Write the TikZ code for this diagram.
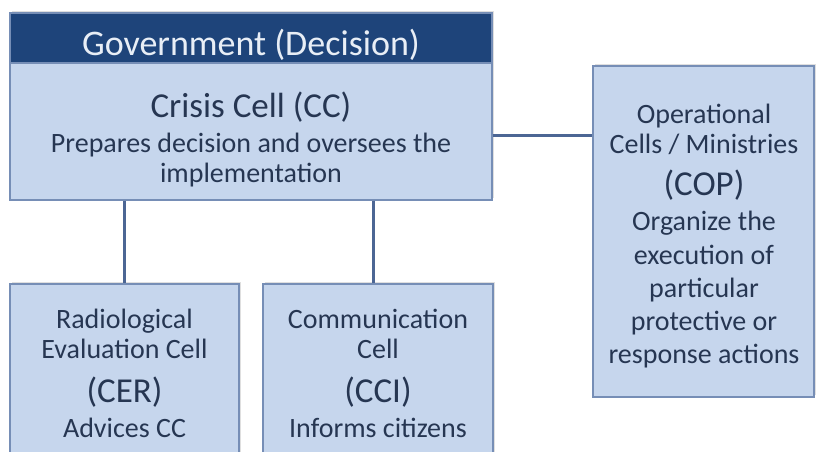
\documentclass[tikz,border=0pt]{standalone}
\usepackage{fontspec}
\setmainfont{Carlito}
\usetikzlibrary{shadows}
\definecolor{boxfill}{RGB}{198,214,237}
\definecolor{boxline}{RGB}{118,142,182}
\definecolor{headfill}{RGB}{30,68,122}
\definecolor{txt}{RGB}{38,54,82}
\definecolor{headtxt}{RGB}{232,238,246}
\definecolor{conn}{RGB}{76,102,148}
\tikzset{
  cellbox/.style={draw=boxline, fill=boxfill, line width=1.2pt, inner sep=0pt,
    drop shadow={opacity=0.25, shadow xshift=1.5pt, shadow yshift=2pt}},
  headbox/.style={draw=boxline, fill=headfill, line width=1.2pt, inner sep=0pt},
  body/.style={font=\fontsize{28}{30}\selectfont, text=txt, anchor=base, inner sep=0pt},
  big/.style={font=\fontsize{35}{38}\selectfont, text=txt, anchor=base, inner sep=0pt},
  headtext/.style={font=\fontsize{36}{38}\selectfont, text=headtxt, anchor=base, inner sep=0pt},
  link/.style={draw=conn, line width=3pt}
}
\begin{document}
\begin{tikzpicture}[x=1pt, y=-1pt]
\useasboundingbox (0,0) rectangle (816,451);
\clip (0,0) rectangle (816,451);
\fill[white] (0,0) rectangle (816,451);
% boxes
\node[cellbox, minimum width=482pt, minimum height=187pt] (cc) at (251,106.5) {};
\node[headbox, minimum width=482pt, minimum height=50pt] (gov) at (251,38) {};
\node[cellbox, minimum width=229pt, minimum height=200pt] (cer) at (124.5,384) {};
\node[cellbox, minimum width=230pt, minimum height=200pt] (cci) at (378,384) {};
\node[cellbox, minimum width=221pt, minimum height=331pt] (cop) at (703.5,231.5) {};
% connectors
\coordinate (c1) at (124,200);
\coordinate (c2) at (373,200);
\draw[link] (cc.south -| c1) -- (cer.north -| c1);
\draw[link] (cc.south -| c2) -- (cci.north -| c2);
\coordinate (c3) at (500,135);
\draw[link] (cc.east |- c3) -- (cop.west |- c3);
% texts
\node[headtext] (govt) at (251,55) {Government (Decision)};
\node[big] (cct) at (251,117) {Crisis Cell (CC)};
\node[body] (cct1) at (251,152) {Prepares decision and oversees the};
\node[body] (cct2) at (251,182) {implementation};
\node[body] (cer1) at (124.5,328) {Radiological};
\node[body] (cer2) at (124.5,358) {Evaluation Cell};
\node[big] (cer3) at (124.5,402) {(CER)};
\node[body] (cer4) at (124.5,437) {Advices CC};
\node[body] (cci1) at (378,328) {Communication};
\node[body] (cci2) at (378,358) {Cell};
\node[big] (cci3) at (378,402) {(CCI)};
\node[body] (cci4) at (378,437) {Informs citizens};
\node[body] (cop1) at (704,123) {Operational};
\node[body] (cop2) at (704,153) {Cells / Ministries};
\node[big] (cop3) at (704,195) {(COP)};
\node[body] (cop4) at (704,230) {Organize the};
\node[body] (cop5) at (704,264) {execution of};
\node[body] (cop6) at (704,297) {particular};
\node[body] (cop7) at (704,330) {protective or};
\node[body] (cop8) at (704,363) {response actions};
\end{tikzpicture}
\end{document}
